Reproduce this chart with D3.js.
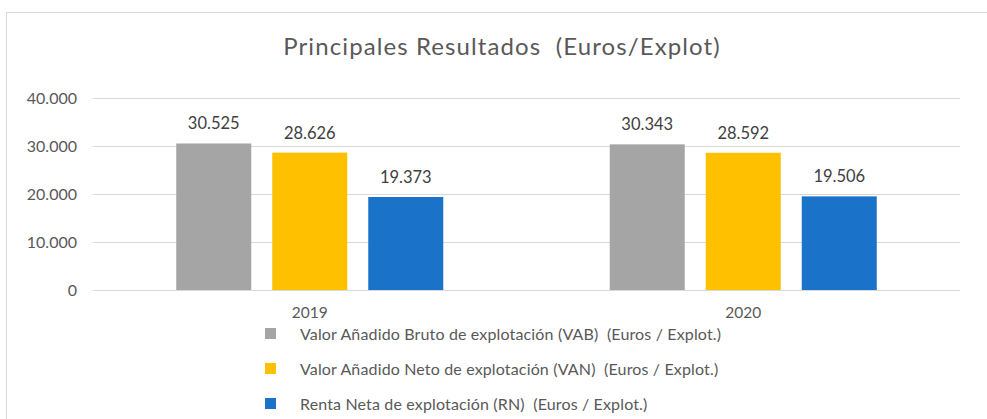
<!DOCTYPE html>
<html><head><meta charset="utf-8">
<script src="https://cdn.jsdelivr.net/npm/d3@7"></script>
<style>body{margin:0;background:#fff;} text{font-family:Lato,"Open Sans",sans-serif; white-space:pre;}</style>
</head><body>
<svg id="c" width="987" height="419"></svg>
<script>
const categories = ["2019", "2020"];
const seriesNames = [
  "Valor Añadido Bruto de explotación (VAB)  (Euros / Explot.)",
  "Valor Añadido Neto de explotación (VAN)  (Euros / Explot.)",
  "Renta Neta de explotación (RN)  (Euros / Explot.)"
];
const vabValues = [30525, 30343];
const vanValues = [28626, 28592];
const rnValues = [19373, 19506];
const yTicks = [0, 10000, 20000, 30000, 40000];
const colors = ["#a5a5a5", "#ffc000", "#1a73c8"];
const title = "Principales Resultados  (Euros/Explot)";

const series = [vabValues, vanValues, rnValues];
const svg = d3.select("#c");
const fmt = v => d3.format(",")(v).replace(/,/g, ".");

svg.append("rect").attr("x", 6.5).attr("y", 12.5).attr("width", 990).attr("height", 420)
  .attr("fill", "#fff").attr("stroke", "#d9d9d9").attr("stroke-width", 1);

svg.append("text").attr("x", 502).attr("y", 55).attr("text-anchor", "middle")
  .attr("font-size", 24).attr("letter-spacing", 1.1).attr("fill", "#595959").text(title);

const x0 = d3.scaleBand().domain(categories).range([93, 960]).paddingInner(0).paddingOuter(0);
const x1 = d3.scaleBand().domain([0, 1, 2]).range([0, x0.bandwidth()]).paddingInner(0.21875).paddingOuter(0.867);
const y = d3.scaleLinear().domain([0, 40000]).range([290, 98]);

const grid = svg.append("g");
grid.selectAll("line").data(yTicks).join("line")
  .attr("x1", 93).attr("x2", 960).attr("y1", d => Math.round(y(d)) + 0.5).attr("y2", d => Math.round(y(d)) + 0.5)
  .attr("stroke", "#d9d9d9").attr("stroke-width", 1);

const yAxis = d3.axisLeft(y).tickValues(yTicks).tickSize(0).tickPadding(0).tickFormat(fmt);
const ya = svg.append("g").attr("transform", "translate(77,0)").call(yAxis);
ya.select(".domain").remove();
ya.selectAll("text").attr("font-size", 16).attr("fill", "#595959").attr("font-family", "Lato,sans-serif");

const xAxis = d3.axisBottom(x0).tickSize(0).tickPadding(0);
const xa = svg.append("g").attr("transform", "translate(0,307)").call(xAxis);
xa.select(".domain").remove();
xa.selectAll("text").attr("font-size", 15.5).attr("fill", "#595959").attr("font-family", "Lato,sans-serif");

categories.forEach((cat, ci) => {
  const g = svg.append("g").attr("transform", `translate(${x0(cat)},0)`);
  series.forEach((vals, si) => {
    const v = vals[ci];
    g.append("rect").attr("x", x1(si)).attr("y", y(v)).attr("width", x1.bandwidth())
      .attr("height", y(0) - y(v)).attr("fill", colors[si]);
    g.append("text").attr("x", x1(si) + x1.bandwidth() / 2).attr("y", y(v) - 14)
      .attr("text-anchor", "middle").attr("font-size", 16.5).attr("fill", "#404040").text(fmt(v));
  });
});

const leg = svg.append("g");
seriesNames.forEach((n, i) => {
  const cy = 333.5 + i * 35;
  leg.append("rect").attr("x", 265).attr("y", cy - 5.5).attr("width", 11).attr("height", 11).attr("fill", colors[i]);
  leg.append("text").attr("x", 300).attr("y", cy + 6).attr("font-size", 16).attr("letter-spacing", 0.15).attr("fill", "#595959").text(n);
});
</script>
</body></html>
